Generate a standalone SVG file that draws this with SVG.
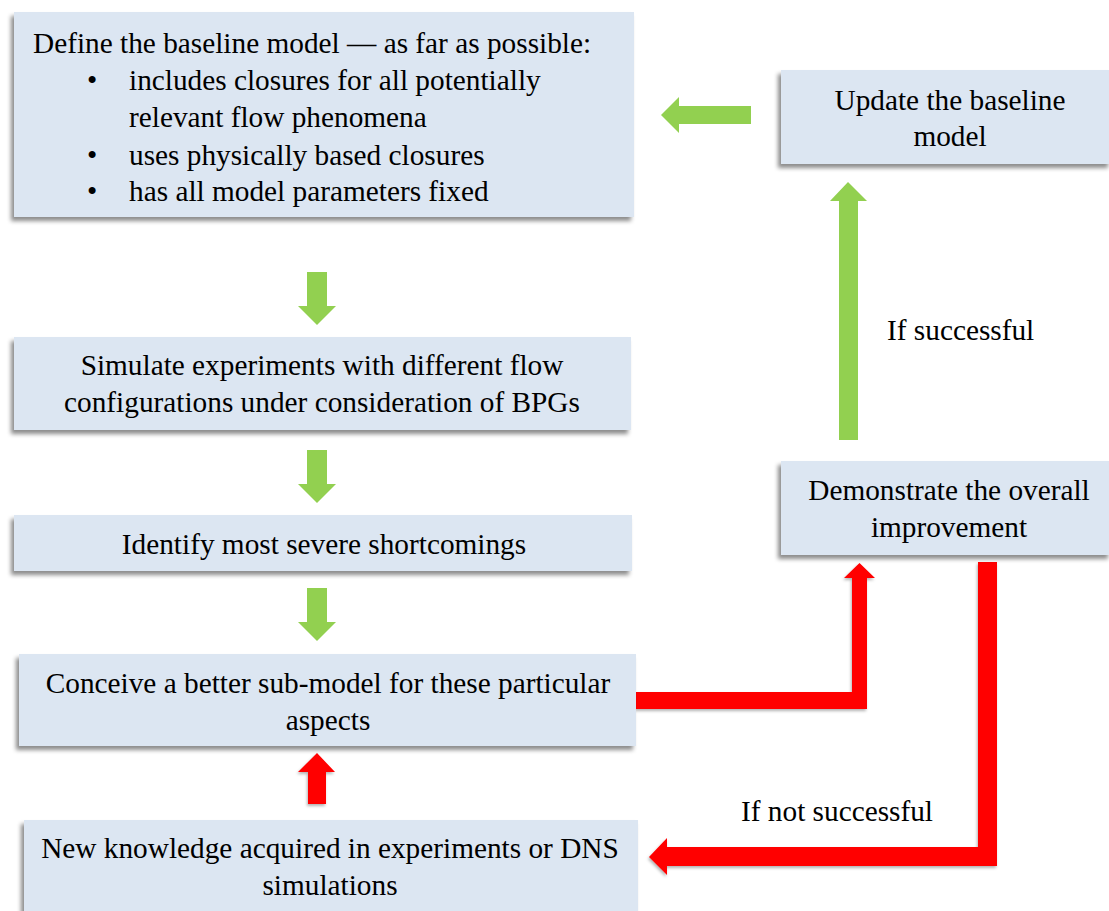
<svg xmlns="http://www.w3.org/2000/svg" width="1109" height="911" viewBox="0 0 1109 911">
<defs>
<filter id="sh" x="-10%" y="-10%" width="120%" height="130%">
<feDropShadow dx="-3" dy="4" stdDeviation="2" flood-color="#000" flood-opacity="0.45"/>
</filter>
<filter id="sha" x="-10%" y="-10%" width="120%" height="130%">
<feDropShadow dx="-1" dy="2" stdDeviation="1.5" flood-color="#000" flood-opacity="0.3"/>
</filter>
<style>
.box{fill:#DCE6F2;filter:url(#sh);}
.t{font-size:29.3px;fill:#000;}
.c{text-anchor:middle;}
.g{fill:#92D050;}
.r{fill:#FF0000;filter:url(#sha);}
</style>
</defs>
<rect width="1109" height="911" fill="#fff"/>
<g id="connectors">
<polygon class="g" points="661,115 679,97 679,106 751,106 751,124 679,124 679,133"/>
<polygon class="g" points="848,182 867,201 858,201 858,440 839,440 839,201 830,201"/>
<polygon class="g" points="307,272 327,272 327,306 336,306 317,325 298,306 307,306"/>
<polygon class="g" points="307,450 327,450 327,484 336,484 317,503 298,484 307,484"/>
<polygon class="g" points="307,588 327,588 327,622 336,622 317,641 298,622 307,622"/>
<polygon class="r" points="317,753 335,772 326,772 326,804 308,804 308,772 298,772"/>
<polygon class="r" points="636,692 852,692 852,578 844,578 859.5,563 875,578 867,578 867,709 636,709"/>
<polygon class="r" points="978,562 997,562 997,866 667,866 667,875 649,857 667,838 667,847 978,847"/>
</g>
<g font-family="Liberation Serif, DejaVu Serif, serif">
<g id="n1">
<rect class="box" x="14" y="12" width="620" height="205"/>
<text class="t" x="33" y="53">Define the baseline model — as far as possible:</text>
<text class="t" x="87" y="90">•</text>
<text class="t" x="129" y="90">includes closures for all potentially</text>
<text class="t" x="129" y="127">relevant flow phenomena</text>
<text class="t" x="87" y="165">•</text>
<text class="t" x="129" y="165">uses physically based closures</text>
<text class="t" x="87" y="201">•</text>
<text class="t" x="129" y="201">has all model parameters fixed</text>
</g>
<g id="n2">
<rect class="box" x="781" y="70" width="330" height="94"/>
<text class="t c" x="950" y="110">Update the baseline</text>
<text class="t c" x="950" y="146">model</text>
</g>
<g id="n3">
<rect class="box" x="14" y="337" width="617" height="93"/>
<text class="t c" x="322" y="375">Simulate experiments with different flow</text>
<text class="t c" x="322" y="412">configurations under consideration of BPGs</text>
</g>
<g id="n4">
<rect class="box" x="14" y="515" width="618" height="56"/>
<text class="t c" x="324" y="554">Identify most severe shortcomings</text>
</g>
<g id="n5">
<rect class="box" x="781" y="461" width="330" height="94"/>
<text class="t c" x="949" y="500">Demonstrate the overall</text>
<text class="t c" x="949" y="537">improvement</text>
</g>
<g id="n6">
<rect class="box" x="19" y="654" width="617" height="92"/>
<text class="t c" x="328" y="693">Conceive a better sub-model for these particular</text>
<text class="t c" x="328" y="730">aspects</text>
</g>
<g id="n7">
<rect class="box" x="24" y="820" width="614" height="95"/>
<text class="t c" x="330" y="858">New knowledge acquired in experiments or DNS</text>
<text class="t c" x="330" y="895">simulations</text>
</g>
<g id="labels">
<text class="t" x="887" y="340">If successful</text>
<text class="t" x="741" y="821">If not successful</text>
</g>
</g>
</svg>
